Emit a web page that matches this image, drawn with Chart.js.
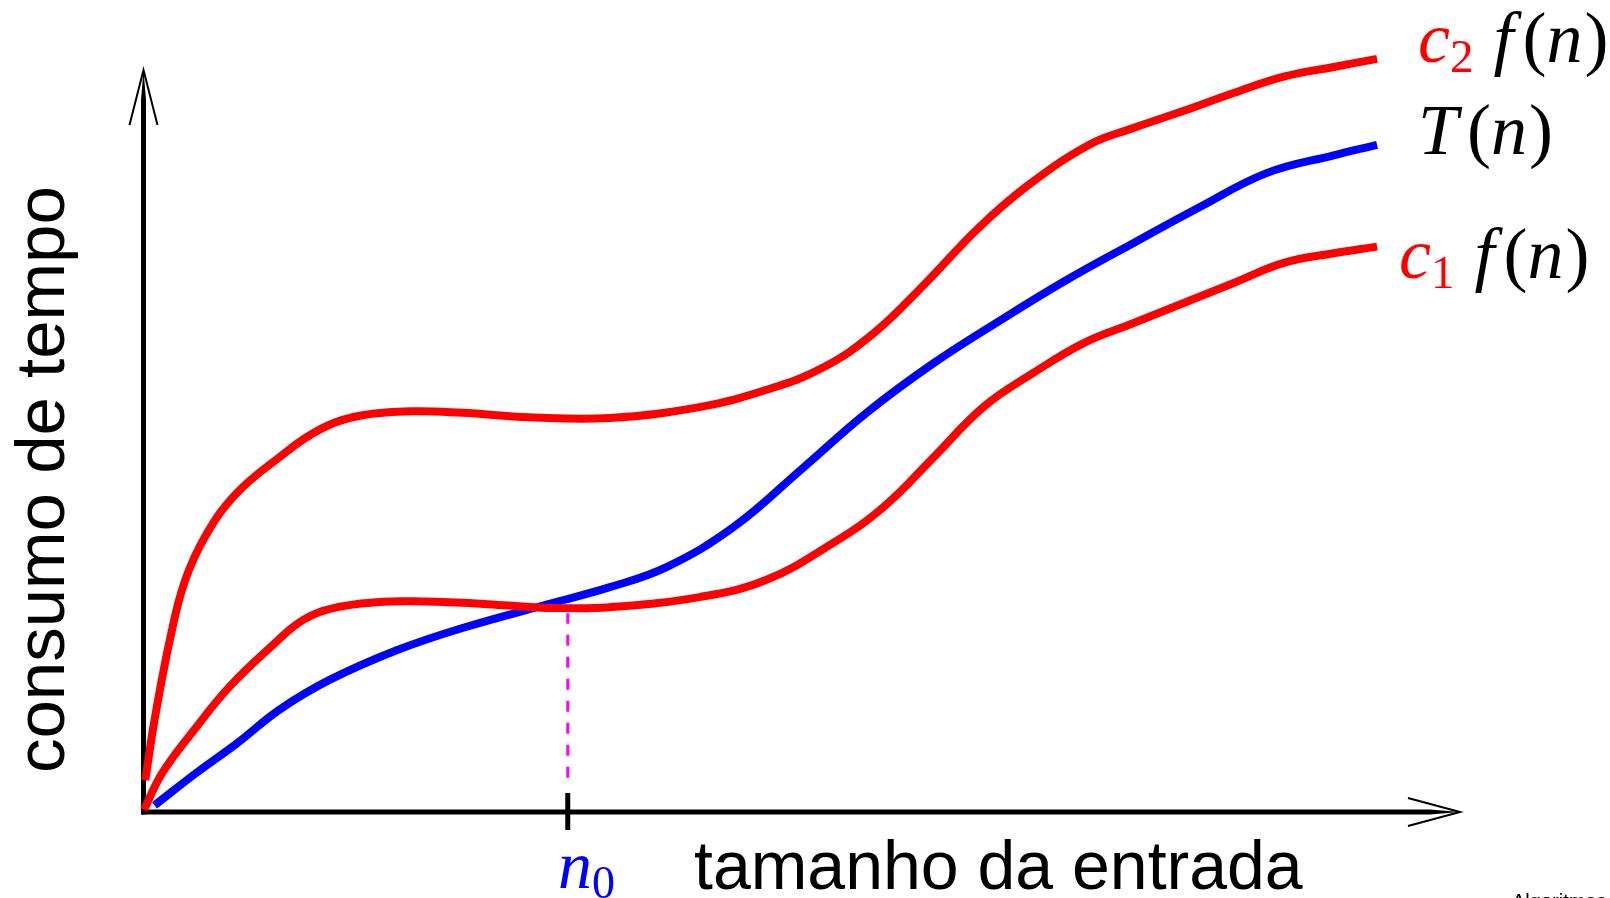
<!DOCTYPE html>
<html>
<head>
<meta charset="utf-8">
<script src="https://cdn.jsdelivr.net/npm/chart.js@4.4.1/dist/chart.umd.min.js"></script>
<style>
  html, body { margin: 0; padding: 0; background: #fff; }
  #wrap { width: 1610px; height: 898px; position: relative; }
</style>
</head>
<body>
<div id="wrap"><canvas id="chart" width="1610" height="898"></canvas></div>
<script>
// c2 f(n) (upper red curve)
const c2N = [0.1, 0.8, 2.0, 3.1, 4.7, 7.0, 10.2, 13.3, 16.4, 20.3, 24.2, 29.3, 35.4, 42.3, 47.3, 51.6, 55.5, 59.4, 63.4, 67.2, 71.9, 75.2, 79.0, 82.8, 86.6, 90.4, 93.7];
const c2Vals = [4.3, 12.4, 23.5, 31.1, 37.3, 42.9, 47.7, 51.5, 53.4, 54.0, 53.8, 53.2, 53.1, 54.6, 56.9, 59.9, 64.6, 71.3, 78.7, 84.5, 90.0, 92.2, 94.5, 96.9, 99.1, 100.4, 101.5];

// T(n) (blue curve)
const tN = [0.8, 4.0, 7.1, 10.3, 14.1, 19.2, 24.2, 31.1, 35.4, 39.7, 44.8, 49.9, 54.9, 60.0, 65.1, 70.1, 75.2, 80.2, 85.3, 90.4, 93.7];
const tVals = [0.9, 5.3, 9.3, 13.8, 17.8, 21.8, 24.8, 28.2, 30.3, 33.0, 38.4, 46.1, 53.8, 60.5, 66.3, 71.7, 76.7, 81.5, 86.1, 88.5, 89.9];

// c1 f(n) (lower red curve)
const c1N = [0.0, 1.4, 4.0, 6.5, 9.6, 12.1, 14.7, 17.9, 20.4, 24.2, 28.0, 31.1, 35.4, 42.3, 47.3, 52.4, 56.2, 60.0, 63.8, 67.6, 71.4, 75.2, 79.0, 82.8, 86.6, 90.4, 93.7];
const c1Vals = [0.3, 5.3, 11.5, 16.9, 22.2, 25.9, 27.6, 28.3, 28.4, 28.2, 27.8, 27.5, 27.6, 29.0, 31.3, 36.3, 41.1, 47.8, 54.6, 59.2, 63.2, 65.9, 68.6, 71.3, 74.0, 75.3, 76.2];

// n0 marker and its dashed guide
const n0 = 32.2;
const n0Guide = [4.6, 26.8];
const axisMax = 100;

const toPoints = (xs, ys) => xs.map((v, i) => ({ x: v, y: ys[i] }));

// draw a run of text pieces one after another
const drawRun = (ctx, x, y, parts) => {
  parts.forEach((p) => {
    x += p.gap || 0;
    ctx.font = p.font;
    ctx.fillStyle = p.color;
    ctx.fillText(p.t, x, y + (p.dy || 0));
    x += ctx.measureText(p.t).width;
  });
};

const ITAL = "italic 72px 'Liberation Serif'";
const ROM = "72px 'Liberation Serif'";
const SUB = "47px 'Liberation Serif'";

const fOfN = [
  { t: "f", font: ITAL, color: "#000" },
  { t: "(", font: ROM, color: "#000", gap: 9 },
  { t: "n", font: ITAL, color: "#000" },
  { t: ")", font: ROM, color: "#000", gap: 2 },
];

const axesPlugin = {
  id: "axes",
  beforeDatasetsDraw(chart) {
    const { ctx, scales: { x, y } } = chart;
    const x0 = x.getPixelForValue(0) - 0.5;
    const y0 = y.getPixelForValue(0);
    const xEnd = x.getPixelForValue(axisMax);
    const yEnd = y.getPixelForValue(axisMax);
    ctx.save();
    ctx.strokeStyle = "#000";
    ctx.fillStyle = "#000";
    ctx.lineCap = "butt";
    ctx.lineWidth = 5;
    // y axis with tapering tip
    ctx.beginPath();
    ctx.moveTo(x0, y0 + 2.5);
    ctx.lineTo(x0, yEnd + 30);
    ctx.stroke();
    ctx.beginPath();
    ctx.moveTo(x0 - 2.5, yEnd + 30);
    ctx.lineTo(x0 + 2.5, yEnd + 30);
    ctx.lineTo(x0, yEnd);
    ctx.fill();
    // x axis with tapering tip
    ctx.beginPath();
    ctx.moveTo(x0 - 2.5, y0);
    ctx.lineTo(xEnd - 30, y0);
    ctx.stroke();
    ctx.beginPath();
    ctx.moveTo(xEnd - 30, y0 - 2.5);
    ctx.lineTo(xEnd - 30, y0 + 2.5);
    ctx.lineTo(xEnd, y0);
    ctx.fill();
    // arrow barbs
    ctx.lineWidth = 2;
    ctx.beginPath();
    ctx.moveTo(x0 - 14, yEnd + 55);
    ctx.lineTo(x0, yEnd);
    ctx.lineTo(x0 + 14, yEnd + 55);
    ctx.stroke();
    ctx.beginPath();
    ctx.moveTo(xEnd - 52, y0 - 14);
    ctx.lineTo(xEnd, y0);
    ctx.lineTo(xEnd - 52, y0 + 14);
    ctx.stroke();
    // tick at n0
    const xn = x.getPixelForValue(n0);
    ctx.lineWidth = 5;
    ctx.beginPath();
    ctx.moveTo(xn, y0 - 19);
    ctx.lineTo(xn, y0 + 18);
    ctx.stroke();
    ctx.restore();
  },
  afterDraw(chart) {
    const { ctx } = chart;
    ctx.save();
    ctx.textBaseline = "alphabetic";
    ctx.textAlign = "left";

    // curve labels
    drawRun(ctx, 1418, 62, [
      { t: "c", font: ITAL, color: "#ff0000" },
      { t: "2", font: SUB, color: "#ff0000", dy: 10 },
      ...fOfN.map((p, i) => (i === 0 ? { ...p, gap: 20 } : p)),
    ]);
    drawRun(ctx, 1418, 154, [
      { t: "T", font: ITAL, color: "#000" },
      ...fOfN.slice(1),
    ]);
    drawRun(ctx, 1399, 278, [
      { t: "c", font: ITAL, color: "#ff0000" },
      { t: "1", font: SUB, color: "#ff0000", dy: 10 },
      ...fOfN.map((p, i) => (i === 0 ? { ...p, gap: 20 } : p)),
    ]);

    // n0
    drawRun(ctx, 558, 888, [
      { t: "n", font: "italic 68px 'Liberation Serif'", color: "#0000ff" },
      { t: "0", font: "46px 'Liberation Serif'", color: "#0000ff", dy: 10 },
    ]);

    // axis titles
    ctx.fillStyle = "#000";
    ctx.font = "68px 'Liberation Sans'";
    ctx.fillText("tamanho da entrada", 694, 889);

    ctx.save();
    ctx.translate(64, 773);
    ctx.rotate(-Math.PI / 2);
    ctx.font = "69px 'Liberation Sans'";
    ctx.fillText("consumo de tempo", 0, 0);
    ctx.restore();

    // footer (cut off at the bottom edge)
    ctx.font = "20px 'Liberation Sans'";
    ctx.textBaseline = "top";
    ctx.fillText("Algoritmos", 1512, 892);
    ctx.restore();
  },
};

const lineStyle = {
  borderWidth: 8,
  pointRadius: 0,
  fill: false,
  tension: 0.4,
  borderCapStyle: "butt",
  clip: false,
};

new Chart(document.getElementById("chart").getContext("2d"), {
  type: "scatter",
  data: {
    datasets: [
      {
        label: "n0",
        data: toPoints([n0, n0], n0Guide),
        showLine: true,
        borderColor: "#ff00ff",
        borderWidth: 3,
        borderDash: [11, 11],
        pointRadius: 0,
        clip: false,
      },
      { label: "c2 f(n)", data: toPoints(c2N, c2Vals), showLine: true, borderColor: "#ff0000", ...lineStyle },
      { label: "c1 f(n)", data: toPoints(c1N, c1Vals), showLine: true, borderColor: "#ff0000", ...lineStyle },
      { label: "T(n)", data: toPoints(tN, tVals), showLine: true, borderColor: "#0000ff", ...lineStyle },
    ],
  },
  options: {
    responsive: false,
    animation: false,
    devicePixelRatio: 1,
    layout: { padding: { left: 144, right: 150, top: 70, bottom: 86 } },
    scales: {
      x: { type: "linear", min: 0, max: axisMax, display: false },
      y: { type: "linear", min: 0, max: axisMax, display: false },
    },
    plugins: {
      legend: { display: false },
      tooltip: { enabled: false },
    },
  },
  plugins: [axesPlugin],
});
</script>
</body>
</html>
